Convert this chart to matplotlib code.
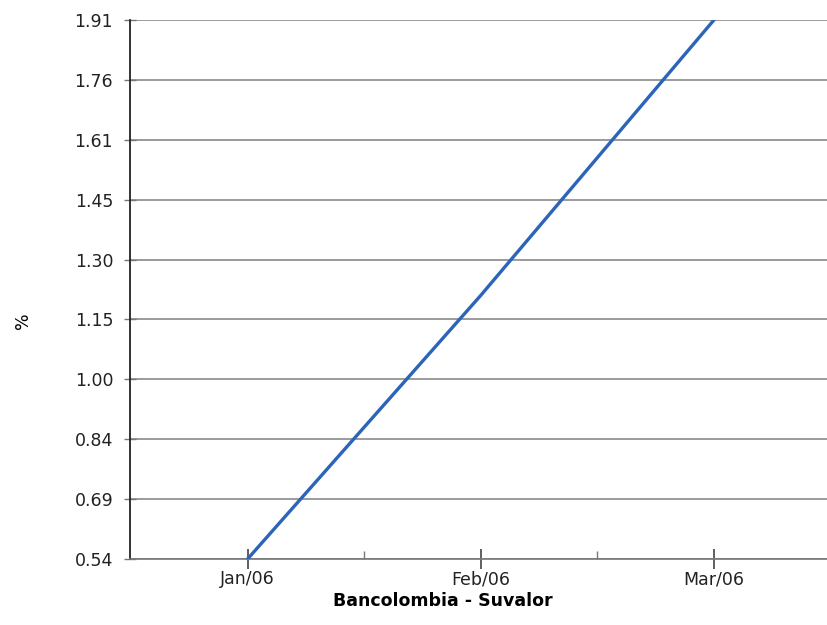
import matplotlib.pyplot as plt
import numpy as np

months = ["Jan/06", "Feb/06", "Mar/06"]
values = [0.54, 1.21, 1.91]
y_ticks = np.linspace(0.54, 1.91, 10)
y_labels = [f"{v:.2f}" for v in y_ticks]

plt.rcParams["font.family"] = ["DejaVu Sans"]

fig = plt.figure(figsize=(8.27, 6.25), dpi=100)
ax = fig.add_axes([0.157, 0.1056, 0.843, 0.8624])

x = np.arange(len(months))
ax.plot(x, values, color="#2b64b8", linewidth=2.4, solid_capstyle="round", zorder=3)

ax.set_xlim(-0.505, 2.485)
ax.set_ylim(y_ticks[0], y_ticks[-1])
ax.set_yticks(y_ticks, y_labels)
ax.set_xticks(x, months)
ax.set_xticks(x[:-1] + 0.5, minor=True)

ax.grid(axis="y", color="#8a8a8a", linewidth=1.2)
ax.set_axisbelow(True)
for side in ("top", "right"):
    ax.spines[side].set_visible(False)
ax.spines["left"].set_color("#222222")
ax.spines["left"].set_linewidth(1.3)
ax.spines["bottom"].set_color("#777777")
ax.spines["bottom"].set_linewidth(1.2)

ax.tick_params(axis="y", direction="inout", length=8, width=1, color="#777777",
               labelsize=12.5, labelcolor="#222222", pad=8)
ax.tick_params(axis="x", which="major", direction="inout", length=14, width=1.2,
               color="#444444", labelsize=12.5, labelcolor="#222222", pad=1)
ax.tick_params(axis="x", which="minor", direction="in", length=6, width=1, color="#777777")

ax.set_xlabel("Bancolombia - Suvalor", fontweight="bold", fontsize=12.5)
ax.xaxis.set_label_coords(0.449, -0.062)
ax.set_ylabel("%", fontsize=12.5)
ax.yaxis.set_label_coords(-0.141, 0.443)

fig.savefig("out.png", dpi=100, facecolor="white")
